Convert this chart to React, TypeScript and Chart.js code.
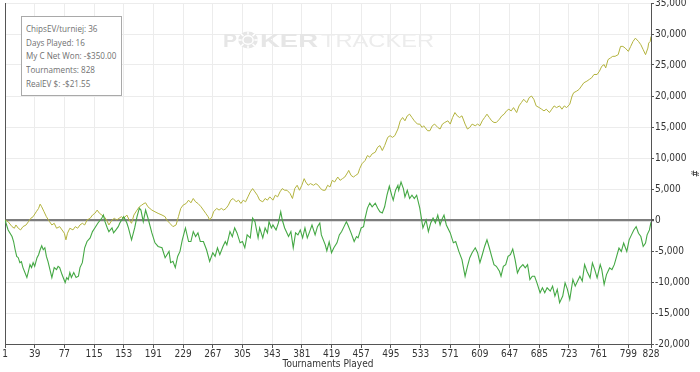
import React, { useEffect, useRef } from "react";
import { Chart, registerables } from "chart.js";

Chart.register(...registerables);

// Tournaments played tick labels
const xTicks = [1, 39, 77, 115, 153, 191, 229, 267, 305, 343, 381, 419, 457, 495, 533, 571, 609, 647, 685, 723, 761, 799, 828];
const yMin = -20000;
const yMax = 35000;
const yStep = 5000;

const infoLines = [
  "ChipsEV/turniej: 36",
  "Days Played: 16",
  "My C Net Won: -$350.00",
  "Tournaments: 828",
  "RealEV $: -$21.55",
];

// [tournament, chips] - net won (green)
const netWonPoints: [number, number][] = [
  [1, 0], [5, -1600], [10, -2670], [12, -3470], [14, -4800], [16, -5870], [18, -6080], [20, -6880], [22, -6720], [24, -7680],
  [29, -9280], [31, -8270], [33, -7200], [35, -7680], [37, -6880], [39, -7470], [42, -6080], [44, -5600], [46, -4800], [48, -4160],
  [50, -4800], [52, -4480], [54, -5870], [56, -6670], [61, -9280], [64, -7680], [67, -8000], [69, -7470], [71, -7680], [74, -8800],
  [78, -10080], [80, -9280], [82, -9600], [84, -8480], [86, -9280], [89, -8480], [92, -9280], [95, -9070], [97, -7680], [100, -6880],
  [103, -4480], [106, -3470], [110, -2880], [113, -1870], [116, -1280], [120, -480], [125, 320], [127, 800], [129, -270], [132, -1280],
  [134, -1870], [138, -1280], [140, -2080], [143, -1600], [146, -1070], [148, -480], [152, 320], [153, 530], [157, -480], [159, -1280],
  [163, -3200], [167, -1280], [170, 530], [173, 1920], [175, 1600], [178, -270], [181, 1600], [184, 320], [189, -2080], [193, -3680],
  [197, -4270], [202, -4480], [206, -6080], [211, -5070], [213, -6880], [216, -6670], [219, -7680], [222, -5870], [225, -5070], [228, -3200],
  [232, -1280], [236, -3470], [239, -3470], [242, -1870], [245, -2670], [248, -2080], [251, -3470], [255, -3470], [259, -4800], [263, -6670],
  [267, -5280], [270, -5870], [273, -4480], [276, -5600], [280, -4270], [283, -3470], [285, -4000], [289, -1870], [292, -2670], [295, -1280],
  [298, -2080], [302, -3680], [305, -3470], [308, -4480], [311, -2400], [315, -2880], [318, 320], [321, -270], [323, -1600], [325, -2880],
  [327, -1280], [331, -2880], [334, -1280], [337, -2080], [339, -270], [342, -1280], [344, -800], [348, -1600], [351, -480], [354, 1330],
  [356, 0], [359, -1280], [364, -2670], [367, -1870], [370, -4480], [373, -2080], [376, -2400], [379, -1600], [382, -2880], [385, -1280],
  [388, -2880], [391, -1870], [394, -800], [398, -2400], [401, -1070], [404, -480], [406, -2400], [411, -4000], [413, -4960], [416, -3520],
  [419, -5280], [422, -4480], [426, -3680], [429, -2400], [432, -1870], [435, -1070], [438, -270], [440, -800], [444, -2080], [448, -3470],
  [451, -2670], [453, -2880], [457, -1280], [460, -1070], [462, 320], [465, 1920], [468, 2720], [471, 2130], [475, 2720], [478, 1920],
  [481, 1330], [484, 1120], [487, 2130], [490, 4000], [493, 5440], [496, 4000], [498, 3200], [501, 4800], [504, 5600], [505, 4800],
  [508, 6130], [511, 5070], [513, 3730], [516, 4800], [519, 3470], [522, 4000], [525, 3470], [528, 4000], [532, 1920], [536, -1280],
  [540, 0], [543, -1870], [546, -480], [549, 320], [552, -480], [555, 800], [558, -800], [560, 0], [563, 800], [566, -800],
  [571, -2080], [575, -3680], [578, -3470], [582, -5070], [586, -6400], [590, -9070], [593, -7470], [596, -6080], [599, -5280], [603, -4480],
  [606, -5280], [609, -6880], [612, -5600], [615, -4270], [618, -3200], [621, -4480], [624, -5870], [627, -7200], [630, -7470], [634, -8270],
  [636, -9070], [639, -7470], [642, -7200], [645, -5870], [648, -5600], [651, -4690], [654, -6400], [657, -8530], [660, -7730], [664, -7200],
  [667, -7730], [670, -7200], [673, -9600], [676, -9070], [679, -9070], [682, -10130], [686, -11730], [689, -10930], [692, -11730], [695, -10930],
  [699, -11470], [702, -10670], [705, -12270], [708, -11200], [711, -13330], [715, -12270], [718, -10130], [721, -11200], [724, -12800], [728, -9600],
  [731, -10670], [733, -10130], [737, -9070], [740, -9870], [743, -7200], [746, -8270], [750, -9330], [753, -6930], [756, -8000], [759, -9330],
  [763, -7200], [765, -8000], [768, -10400], [771, -8800], [775, -7730], [778, -8000], [781, -7200], [784, -5870], [787, -4530], [790, -5070],
  [793, -3730], [797, -5070], [800, -3200], [803, -2400], [806, -1600], [809, -1070], [812, -2130], [815, -2670], [818, -4270], [821, -3730],
  [823, -2400], [826, -1600], [828, -350],
];

// [tournament, chips] - chips EV (yellow)
const chipsEvPoints: [number, number][] = [
  [1, 0], [5, -270], [10, -1070], [13, -1330], [15, -800], [18, -1330], [21, -1600], [24, -1070], [28, -800], [31, -270],
  [34, 270], [37, 530], [41, 1330], [44, 1870], [46, 2560], [48, 2130], [51, 1330], [54, 530], [58, -270], [61, -800],
  [64, -530], [67, -1330], [71, -1070], [74, -1600], [77, -2130], [79, -3200], [81, -2130], [84, -1330], [88, -1600], [91, -1070],
  [94, -1330], [97, -800], [100, -530], [103, -800], [106, 0], [110, 270], [113, 800], [116, 1070], [119, 1600], [122, 1070],
  [125, 800], [128, 530], [131, 0], [134, -800], [138, 0], [141, 270], [144, 0], [147, 270], [150, 530], [153, 270],
  [157, 800], [160, 0], [163, -530], [166, 800], [170, 1600], [173, 2130], [176, 2400], [179, 2670], [181, 2770], [184, 2130],
  [189, 1600], [193, 1330], [197, 1070], [202, 800], [206, 530], [208, 0], [212, -530], [216, -1070], [220, -800], [223, 530],
  [226, 1870], [229, 2400], [233, 2670], [236, 3200], [239, 2770], [242, 3470], [245, 2930], [248, 2670], [252, 2130], [255, 1600],
  [258, 1070], [261, 530], [263, 0], [266, 530], [268, 1330], [272, 1870], [275, 1600], [278, 1870], [281, 1600], [284, 1870],
  [287, 2400], [290, 3200], [293, 3470], [297, 2930], [300, 3200], [303, 2670], [306, 3200], [309, 2930], [312, 3730], [315, 4530],
  [318, 5070], [321, 4530], [324, 4000], [327, 3200], [331, 2930], [334, 3470], [337, 3200], [340, 3730], [344, 3200], [347, 4000],
  [350, 3730], [353, 4530], [356, 5070], [359, 4800], [362, 4800], [366, 4270], [369, 3470], [372, 5070], [375, 5600], [378, 4800],
  [381, 5600], [384, 6670], [386, 6130], [389, 5600], [392, 5870], [396, 5600], [399, 5870], [402, 5600], [405, 5070], [408, 4800],
  [411, 4800], [414, 5600], [417, 5330], [420, 6400], [423, 6130], [427, 6930], [430, 6400], [433, 6670], [436, 6930], [440, 7730],
  [441, 8000], [444, 7200], [447, 6930], [450, 7200], [453, 7470], [455, 8270], [458, 9070], [462, 9600], [465, 10400], [468, 10130],
  [471, 10670], [475, 10930], [478, 11730], [481, 12000], [484, 11200], [487, 12000], [491, 13330], [494, 13600], [497, 13330], [500, 13600],
  [504, 14670], [507, 16000], [510, 16530], [513, 16000], [516, 16800], [519, 17070], [522, 16530], [525, 16000], [529, 15470], [532, 15470],
  [535, 14930], [537, 15200], [542, 14400], [545, 14400], [548, 15200], [551, 15470], [555, 14930], [558, 14670], [561, 15470], [564, 15730],
  [568, 16000], [571, 15470], [574, 16530], [577, 17330], [580, 16800], [583, 16530], [586, 16800], [590, 15470], [593, 14670], [596, 14930],
  [599, 15470], [603, 15200], [606, 15470], [609, 15200], [612, 16000], [615, 16530], [618, 17070], [621, 16530], [624, 16000], [627, 15730],
  [630, 15730], [634, 16270], [637, 16800], [640, 17070], [643, 17600], [646, 17870], [649, 17600], [652, 18130], [656, 17330], [659, 18400],
  [662, 18930], [665, 19470], [669, 18930], [672, 19730], [675, 20000], [678, 19470], [681, 18400], [685, 18130], [688, 17870], [691, 17600],
  [694, 17870], [698, 17330], [701, 17870], [704, 18400], [707, 18130], [711, 18400], [714, 17870], [717, 18400], [720, 18130], [724, 18670],
  [727, 20000], [729, 20530], [733, 20800], [736, 21070], [739, 21600], [742, 22130], [746, 22400], [749, 22670], [752, 22930], [755, 23470],
  [759, 23470], [762, 24000], [765, 24800], [768, 25070], [770, 24530], [773, 25870], [776, 26130], [779, 26400], [782, 26400], [786, 26670],
  [789, 28000], [792, 28000], [795, 27730], [799, 27200], [802, 28000], [805, 28800], [808, 29330], [812, 28800], [815, 28270], [818, 27470],
  [821, 26670], [824, 27730], [825, 28530], [827, 28800], [828, 29600],
];

const tickFont = { family: "'Liberation Sans Narrow', 'DejaVu Sans Condensed', 'Liberation Sans', Arial, sans-serif", size: 10 };

const decorPlugin = {
  id: "decor",
  beforeDatasetsDraw(chart: any) {
    const { ctx, chartArea } = chart;
    ctx.save();
    // watermark
    const wmTop = 33;
    const wmBottom = 47;
    const fontPx = 19;
    ctx.textBaseline = "alphabetic";
    const drawStretched = (text: string, font: string, x0: number, x1: number, color: string) => {
      ctx.font = font;
      const w = ctx.measureText(text).width;
      ctx.save();
      ctx.translate(x0, wmBottom);
      ctx.scale((x1 - x0) / w, 1);
      ctx.fillStyle = color;
      ctx.fillText(text, 0, 0);
      ctx.restore();
    };
    drawStretched("P", `bold ${fontPx}px 'Liberation Sans', Arial`, 223, 237, "#e6e6e6");
    // chip
    const cx = 248, cy = (wmTop + wmBottom) / 2, r = 8.5;
    ctx.fillStyle = "#e6e6e6";
    ctx.beginPath();
    ctx.ellipse(cx, cy, r * 1.15, r, 0, 0, Math.PI * 2);
    ctx.fill();
    ctx.strokeStyle = "#ffffff";
    ctx.lineWidth = 1.5;
    for (let i = 0; i < 8; i++) {
      const a = (i * Math.PI) / 4;
      ctx.beginPath();
      ctx.moveTo(cx + Math.cos(a) * r * 0.75, cy + Math.sin(a) * r * 0.65);
      ctx.lineTo(cx + Math.cos(a) * r * 1.15, cy + Math.sin(a) * r);
      ctx.stroke();
    }
    ctx.beginPath();
    ctx.ellipse(cx, cy, r * 0.6, r * 0.5, 0, 0, Math.PI * 2);
    ctx.stroke();
    drawStretched("KER", `bold ${fontPx}px 'Liberation Sans', Arial`, 260, 318, "#e6e6e6");
    drawStretched("TRACKER", `${fontPx}px 'Liberation Sans', Arial`, 321, 434, "#ececec");

    // left border
    ctx.strokeStyle = "#555555";
    ctx.lineWidth = 1;
    ctx.beginPath();
    ctx.moveTo(chartArea.left + 0.5, chartArea.top);
    ctx.lineTo(chartArea.left + 0.5, chartArea.bottom);
    ctx.stroke();
    ctx.restore();
  },
};

export default function App() {
  const canvasRef = useRef<HTMLCanvasElement | null>(null);

  useEffect(() => {
    if (!canvasRef.current) return;
    const chart = new Chart(canvasRef.current, {
      type: "line",
      data: {
        datasets: [
          {
            label: "My C Net Won",
            data: netWonPoints.map(([x, y]) => ({ x, y })),
            borderColor: "#44a844",
            borderWidth: 1.1,
            pointRadius: 0,
            tension: 0,
          },
          {
            label: "ChipsEV",
            data: chipsEvPoints.map(([x, y]) => ({ x, y })),
            borderColor: "#b3b33e",
            borderWidth: 1,
            pointRadius: 0,
            tension: 0,
          },
        ],
      },
      options: {
        animation: false,
        responsive: false,
        events: [],
        layout: { padding: { left: 5, top: 3, right: 0, bottom: 0 } },
        plugins: { legend: { display: false }, tooltip: { enabled: false } },
        scales: {
          x: {
            type: "linear",
            min: 1,
            max: 828,
            afterBuildTicks: (scale: any) => {
              scale.ticks = xTicks.map((v) => ({ value: v }));
            },
            afterFit: (scale: any) => {
              scale.height = 28;
              scale.paddingLeft = 0;
              scale.paddingRight = 0;
            },
            ticks: {
              autoSkip: false,
              maxRotation: 0,
              minRotation: 0,
              padding: 0,
              color: "#333333",
              font: tickFont,
              callback: (v: any) => String(v),
            },
            grid: { color: "#ececec", tickColor: "#555555", tickLength: 4, lineWidth: 1 },
            border: { color: "#555555", width: 1 },
            title: {
              display: true,
              text: "Tournaments Played",
              color: "#333333",
              font: tickFont,
              padding: { top: 0, bottom: 2 },
            },
          },
          y: {
            position: "right",
            min: yMin,
            max: yMax,
            afterFit: (scale: any) => {
              scale.width = 49;
              scale.paddingTop = 0;
              scale.paddingBottom = 0;
            },
            ticks: {
              stepSize: yStep,
              padding: 1,
              color: "#333333",
              font: tickFont,
              callback: (v: any) => Number(v).toLocaleString("en-US"),
            },
            grid: {
              color: (c: any) => (c.tick && c.tick.value === 0 ? "#7d7d7d" : "#ececec"),
              lineWidth: (c: any) => (c.tick && c.tick.value === 0 ? 2.2 : 1),
              tickColor: "#555555",
              tickLength: 3,
            },
            border: { color: "#555555", width: 1 },
            title: {
              display: true,
              text: "#",
              color: "#333333",
              font: tickFont,
              padding: 0,
            },
          },
        },
      },
      plugins: [decorPlugin],
    } as any);
    return () => chart.destroy();
  }, []);

  return (
    <div style={{ position: "absolute", left: 0, top: 0, width: 700, height: 372, background: "#ffffff" }}>
      <canvas ref={canvasRef} width={700} height={372} style={{ display: "block", width: 700, height: 372 }} />
      <div
        style={{
          position: "absolute",
          left: 21,
          top: 16,
          width: 101,
          height: 80,
          boxSizing: "border-box",
          border: "1px solid #a9a9a9",
          background: "#ffffff",
          padding: "5px 0 0 4px",
          fontFamily: "'Open Sans', 'Noto Sans', sans-serif",
          fontSize: 9,
          lineHeight: "13.7px",
          color: "#707070",
          whiteSpace: "nowrap",
        }}
      >
        {infoLines.map((t) => (
          <div key={t} style={{ transform: "scaleX(0.9)", transformOrigin: "left center" }}>
            {t}
          </div>
        ))}
      </div>
    </div>
  );
}
